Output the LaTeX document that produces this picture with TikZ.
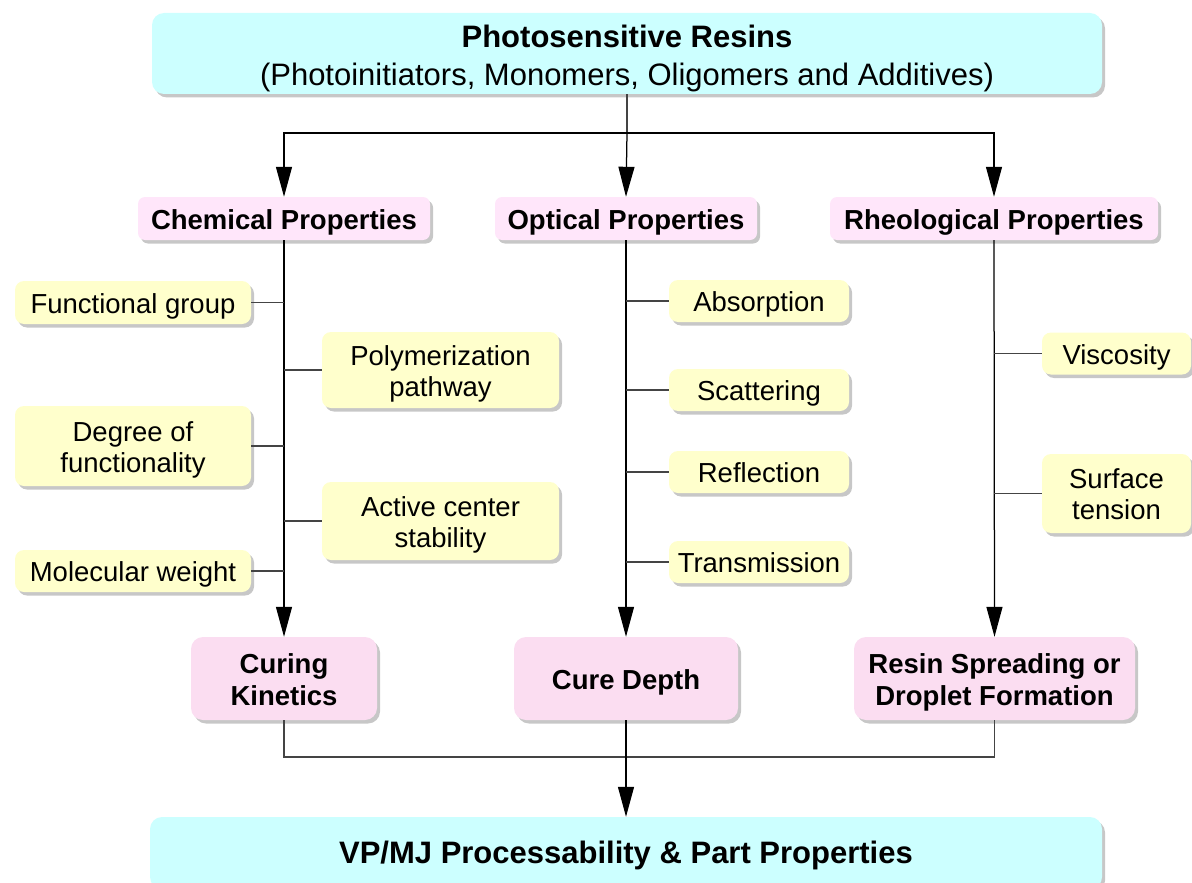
\documentclass[tikz,border=0pt]{standalone}
\usepackage{fontspec}
\setmainfont{Liberation Sans}
\usetikzlibrary{arrows.meta,shadows}
\definecolor{cyanbox}{HTML}{CCFFFF}
\definecolor{lpink}{HTML}{FFE6FA}
\definecolor{dpink}{HTML}{FBDDF1}
\definecolor{ybox}{HTML}{FFFFCC}
\definecolor{lin}{HTML}{444444}
\tikzset{
  box/.style={inner sep=0pt, align=center, draw=none,
    drop shadow={shadow xshift=3pt, shadow yshift=-3.5pt, fill=black, opacity=0.22},
    font=\fontsize{27.5}{31}\selectfont},
  one/.style={text height=25pt, text depth=4pt},
  two/.style={text height=56pt, text depth=4pt},
  topbox/.style={box, fill=cyanbox, rounded corners=12pt},
  catbox/.style={box, one, fill=lpink, rounded corners=7pt, font=\fontsize{27.5}{31}\selectfont\bfseries},
  resbox/.style={box, fill=dpink, rounded corners=12pt, font=\fontsize{27.5}{32}\selectfont\bfseries},
  ybx/.style={box, fill=ybox, rounded corners=9pt},
  conn/.style={draw=lin, line width=1.25pt},
  arr/.style={conn, -{Triangle[length=30pt,width=16pt]}, draw=black}
}
\begin{document}
\begin{tikzpicture}[x=1pt,y=-1pt]
\useasboundingbox (0,0) rectangle (1192,883);
% top and bottom
\node[topbox, minimum width=950pt, minimum height=81pt, font=\fontsize{31}{38}\selectfont,
  text height=63pt, text depth=-6pt] (top) at (627,53.5)
  {{\bfseries Photosensitive Resins}\\(Photoinitiators, Monomers, Oligomers and Additives)};
\node[topbox, one, minimum width=952pt, minimum height=72pt, font=\fontsize{31}{34}\selectfont\bfseries] (bot) at (626,853)
  {VP/MJ Processability \& Part Properties};
% categories
\node[catbox, minimum width=292pt, minimum height=43pt] (chem) at (284,218.5) {Chemical Properties};
\node[catbox, minimum width=262pt, minimum height=43pt] (opt) at (626,218.5) {Optical Properties};
\node[catbox, minimum width=328pt, minimum height=43pt] (rheo) at (994,218.5) {Rheological Properties};
% results
\node[resbox, two, text height=57pt, minimum width=186pt, minimum height=83pt] (kin) at (284,678.5) {Curing\\Kinetics};
\node[resbox, one, minimum width=224pt, minimum height=83pt] (depth) at (626,678.5) {Cure Depth};
\node[resbox, two, text height=57pt, minimum width=281pt, minimum height=83pt] (spread) at (994.5,678.5) {Resin Spreading or\\Droplet Formation};
% chemical items
\node[ybx, one, minimum width=236pt, minimum height=43pt] (fg) at (133,302.5) {Functional group};
\node[ybx, two, minimum width=237pt, minimum height=76pt] (pp) at (440.5,370) {Polymerization\\pathway};
\node[ybx, two, minimum width=236pt, minimum height=80pt] (dof) at (133,446) {Degree of\\functionality};
\node[ybx, two, minimum width=237pt, minimum height=78pt] (acs) at (440.5,521) {Active center\\stability};
\node[ybx, one, minimum width=236pt, minimum height=42pt] (mw) at (133,571) {Molecular weight};
% optical items
\node[ybx, one, minimum width=180pt, minimum height=42pt] (abs) at (759,301) {Absorption};
\node[ybx, one, minimum width=180pt, minimum height=42pt] (sca) at (759,390) {Scattering};
\node[ybx, one, minimum width=180pt, minimum height=42pt] (ref) at (759,472) {Reflection};
\node[ybx, one, minimum width=180pt, minimum height=42pt] (tra) at (759,562) {Transmission};
% rheological items
\node[ybx, one, minimum width=149pt, minimum height=42pt] (vis) at (1116.5,353.5) {Viscosity};
\node[ybx, two, minimum width=149pt, minimum height=79pt] (st) at (1116.5,493.5) {Surface\\tension};
% connectors top
\coordinate (split) at (627,133);
\draw[conn] (top.south) -- (split);
\draw[arr] (split) -| (chem.north);
\draw[arr] (split) -| (rheo.north);
\draw[arr] (split) -- (opt.north);
% verticals
\draw[arr] (chem.south) -- (kin.north);
\draw[arr] (opt.south) -- (depth.north);
\draw[arr] (rheo.south) -- (spread.north);
% branches
\draw[conn] (fg.east) -- (fg.east -| chem.south);
\draw[conn] (pp.west) -- (pp.west -| chem.south);
\draw[conn] (dof.east) -- (dof.east -| chem.south);
\draw[conn] (acs.west) -- (acs.west -| chem.south);
\draw[conn] (mw.east) -- (mw.east -| chem.south);
\draw[conn] (abs.west) -- (abs.west -| opt.south);
\draw[conn] (sca.west) -- (sca.west -| opt.south);
\draw[conn] (ref.west) -- (ref.west -| opt.south);
\draw[conn] (tra.west) -- (tra.west -| opt.south);
\draw[conn] (vis.west) -- (vis.west -| rheo.south);
\draw[conn] (st.west) -- (st.west -| rheo.south);
% bottom
\coordinate (join) at (627,757);
\draw[conn] (kin.south) |- (join);
\draw[conn] (spread.south) |- (join);
\draw[arr] (depth.south) -- (bot.north);
\end{tikzpicture}
\end{document}
